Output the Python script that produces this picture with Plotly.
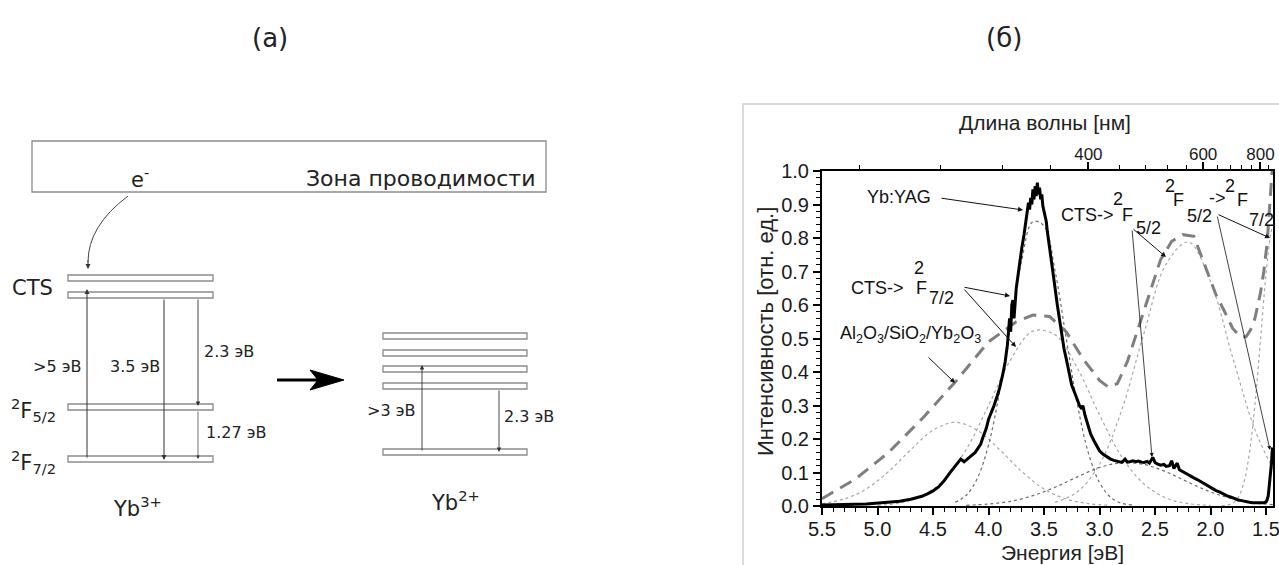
import plotly.graph_objects as go

# ---------------- data ----------------
# measured Yb:YAG excitation/luminescence spectrum (black, thick)
E_yag = [5.50, 5.40, 5.30, 5.20, 5.10, 5.00, 4.90, 4.80, 4.70, 4.60,
         4.55, 4.50, 4.45, 4.40, 4.35, 4.30, 4.27, 4.25, 4.22, 4.20,
         4.17, 4.15, 4.12, 4.10, 4.07, 4.05, 4.02, 4.00, 3.97, 3.95,
         3.92, 3.90, 3.87, 3.85, 3.83, 3.81, 3.80, 3.79, 3.78, 3.77,
         3.75, 3.73, 3.72, 3.70, 3.68, 3.67, 3.65, 3.64, 3.63, 3.62,
         3.61, 3.60, 3.59, 3.58, 3.57, 3.56, 3.55, 3.54, 3.53, 3.52,
         3.51, 3.50, 3.48, 3.47, 3.45, 3.43, 3.42, 3.40, 3.38, 3.35,
         3.32, 3.30, 3.27, 3.25, 3.22, 3.20, 3.18, 3.16, 3.15, 3.13,
         3.10, 3.08, 3.05, 3.02, 3.00, 2.97, 2.95, 2.92, 2.90, 2.87,
         2.85, 2.82, 2.80, 2.77, 2.75, 2.72, 2.70, 2.67, 2.65, 2.62,
         2.60, 2.57, 2.55, 2.52, 2.50, 2.48, 2.45, 2.42, 2.40, 2.37,
         2.35, 2.33, 2.30, 2.28, 2.25, 2.22, 2.20, 2.17, 2.15, 2.12,
         2.10, 2.07, 2.05, 2.02, 2.00, 1.97, 1.95, 1.92, 1.90, 1.87,
         1.85, 1.82, 1.80, 1.77, 1.75, 1.72, 1.70, 1.67, 1.65, 1.62,
         1.60, 1.57, 1.55, 1.52, 1.50, 1.49, 1.48, 1.47, 1.46, 1.45, 1.445, 1.44]
I_yag = [0.003, 0.003, 0.004, 0.005, 0.006, 0.008, 0.010, 0.014, 0.020, 0.029,
         0.036, 0.045, 0.057, 0.075, 0.098, 0.120, 0.134, 0.140, 0.132, 0.138,
         0.146, 0.152, 0.160, 0.170, 0.185, 0.205, 0.232, 0.258, 0.280, 0.300,
         0.330, 0.352, 0.395, 0.430, 0.480, 0.560, 0.520, 0.600, 0.615, 0.560,
         0.650, 0.700, 0.735, 0.770, 0.810, 0.835, 0.870, 0.905, 0.885, 0.920,
         0.900, 0.945, 0.915, 0.955, 0.925, 0.965, 0.930, 0.950, 0.915, 0.930,
         0.895, 0.880, 0.850, 0.820, 0.775, 0.730, 0.700, 0.650, 0.600, 0.530,
         0.470, 0.440, 0.390, 0.360, 0.335, 0.315, 0.300, 0.290, 0.300, 0.270,
         0.235, 0.215, 0.195, 0.175, 0.165, 0.155, 0.150, 0.145, 0.140, 0.136,
         0.134, 0.132, 0.130, 0.140, 0.131, 0.133, 0.135, 0.132, 0.134, 0.131,
         0.130, 0.133, 0.128, 0.145, 0.130, 0.126, 0.122, 0.124, 0.118, 0.120,
         0.135, 0.112, 0.128, 0.108, 0.102, 0.098, 0.094, 0.088, 0.084, 0.079,
         0.075, 0.070, 0.066, 0.060, 0.056, 0.050, 0.046, 0.042, 0.038, 0.033,
         0.030, 0.027, 0.024, 0.020, 0.018, 0.016, 0.014, 0.012, 0.011, 0.010,
         0.010, 0.009, 0.009, 0.010, 0.012, 0.018, 0.030, 0.060, 0.090, 0.130, 0.160, 0.175]

# Al2O3/SiO2/Yb2O3 film (grey dashed)
E_film = [5.50, 5.20, 4.90, 4.60, 4.30, 4.00, 3.75, 3.60, 3.45, 3.30,
          3.15, 3.00, 2.92, 2.84, 2.75, 2.60, 2.45, 2.35, 2.25, 2.15,
          2.05, 1.95, 1.88, 1.80, 1.73, 1.68, 1.64, 1.60, 1.55, 1.52,
          1.49, 1.47, 1.455, 1.445]
I_film = [0.022, 0.080, 0.160, 0.260, 0.370, 0.490, 0.550, 0.570, 0.566, 0.520,
          0.440, 0.375, 0.355, 0.365, 0.430, 0.580, 0.735, 0.790, 0.810, 0.805,
          0.715, 0.630, 0.585, 0.530, 0.505, 0.505, 0.525, 0.560, 0.636, 0.700,
          0.785, 0.880, 0.970, 1.000]

# fitted components (dotted)
E_g1 = [5.5, 5.3, 5.1, 4.9, 4.7, 4.5, 4.3, 4.1, 3.9, 3.7, 3.5, 3.3, 3.1, 2.9]
I_g1 = [0.007, 0.021, 0.051, 0.103, 0.168, 0.226, 0.250, 0.226, 0.168, 0.103, 0.051, 0.021, 0.007, 0.002]
E_g2 = [4.3, 4.2, 4.1, 4.0, 3.9, 3.8, 3.7, 3.6, 3.5, 3.4, 3.3, 3.2, 3.1, 3.0, 2.9, 2.8, 2.7]
I_g2 = [0.011, 0.032, 0.083, 0.182, 0.341, 0.542, 0.735, 0.849, 0.836, 0.701, 0.501, 0.305, 0.158, 0.070, 0.026, 0.008, 0.003]
E_g3 = [5.0, 4.8, 4.6, 4.4, 4.2, 4.0, 3.8, 3.6, 3.4, 3.2, 3.0, 2.8, 2.6, 2.4, 2.2, 2.0]
I_g3 = [0.002, 0.009, 0.030, 0.078, 0.169, 0.300, 0.437, 0.522, 0.511, 0.412, 0.272, 0.147, 0.066, 0.024, 0.007, 0.002]
E_g4 = [4.2, 4.0, 3.8, 3.6, 3.4, 3.2, 3.0, 2.8, 2.6, 2.4, 2.2, 2.0, 1.8, 1.6, 1.44]
I_g4 = [0.002, 0.006, 0.014, 0.031, 0.056, 0.087, 0.115, 0.129, 0.124, 0.102, 0.071, 0.042, 0.021, 0.009, 0.004]
E_g5 = [3.4, 3.2, 3.0, 2.8, 2.6, 2.4, 2.2, 2.0, 1.8, 1.6, 1.44]
I_g5 = [0.011, 0.042, 0.124, 0.286, 0.515, 0.722, 0.788, 0.670, 0.443, 0.228, 0.112]
E_g6 = [1.9, 1.8, 1.75, 1.7, 1.65, 1.6, 1.55, 1.5, 1.46, 1.44]
I_g6 = [0.001, 0.008, 0.026, 0.069, 0.157, 0.301, 0.495, 0.693, 0.808, 0.839]

# top axis (wavelength, nm)
wl_major = [400, 600, 800]
wl_minor = [240, 280, 320, 360, 440, 480, 520, 560, 640, 680, 720, 760, 840]
HC = 1240.0  # eV*nm

# ---------------- helpers ----------------
W, H = 1279, 565
SANS = "DejaVu Sans"
ARIAL = "Liberation Sans, Arial"


def px(x):
    return x / W


def py(y):
    return 1 - y / H


shapes = []
annotations = []


def rect(x0, y0, x1, y1, color="#8c8c8c", width=1.3):
    shapes.append(dict(type="rect", xref="paper", yref="paper",
                       x0=px(x0), x1=px(x1), y0=py(y0), y1=py(y1),
                       line=dict(color=color, width=width), fillcolor="rgba(0,0,0,0)", layer="above"))


def text(x, y, s, size, family=SANS, color="#222", xanchor="center", angle=0):
    annotations.append(dict(x=px(x), y=py(y), xref="paper", yref="paper", text=s,
                            showarrow=False, xanchor=xanchor, yanchor="middle",
                            textangle=angle, font=dict(size=size, family=family, color=color)))


def arrow(tip, tail, width=1.0, color="#222", head=2, size=1.0):
    annotations.append(dict(x=px(tip[0]), y=py(tip[1]), xref="paper", yref="paper",
                            ax=tail[0] - tip[0], ay=tail[1] - tip[1], axref="pixel", ayref="pixel",
                            text="", showarrow=True, arrowhead=head, arrowsize=size,
                            arrowwidth=width, arrowcolor=color, standoff=0, startstandoff=0))


# ---------------- (a) energy level scheme ----------------
text(270, 38, "(а)", 26)
text(1004, 38, "(б)", 26)

rect(32, 141, 546, 192)
text(537, 178, "Зона проводимости", 22, xanchor="right")
text(140, 178, "e<sup>-</sup>", 21)

# curved electron arrow
shapes.append(dict(type="path", xref="paper", yref="paper",
                   path=f"M {px(128)},{py(196)} Q {px(88)},{py(226)} {px(88)},{py(262)}",
                   line=dict(color="#444", width=1)))
arrow((88, 269), (88, 259), color="#333")

# Yb3+ levels
for y0 in (275, 292, 404, 456):
    rect(68, y0, 213, y0 + 6)
text(32, 288, "CTS", 21)
text(33, 410, "<sup>2</sup>F<sub>5/2</sub>", 21)
text(33, 462, "<sup>2</sup>F<sub>7/2</sub>", 21)
arrow((87, 289), (87, 459), color="#333")
arrow((164, 460), (164, 298), color="#333")
arrow((198, 406), (198, 298), color="#333", width=0.9)
arrow((198, 459), (198, 410), color="#333", width=0.7)
text(57, 366, "&gt;5 эВ", 16)
text(135, 366, "3.5 эВ", 16)
text(229, 351, "2.3 эВ", 16)
text(236, 432, "1.27 эВ", 16)
text(137, 507, "Yb<sup>3+</sup>", 21)

# transformation arrow
shapes.append(dict(type="line", xref="paper", yref="paper", x0=px(277), x1=px(322), y0=py(380), y1=py(380),
                   line=dict(color="black", width=3)))
shapes.append(dict(type="path", xref="paper", yref="paper",
                   path=f"M {px(310)},{py(370)} L {px(344)},{py(380)} L {px(310)},{py(390)} L {px(318)},{py(380)} Z",
                   fillcolor="black", line=dict(color="black", width=1)))

# Yb2+ levels
for y0 in (333, 350, 366, 383, 449):
    rect(383, y0, 527, y0 + 6)
arrow((422, 365), (422, 452), color="#333", width=0.9)
arrow((499, 452), (499, 389), color="#333", width=0.9)
text(391, 410, "&gt;3 эВ", 16)
text(529, 417, "2.3 эВ", 16)
text(455, 501, "Yb<sup>2+</sup>", 21)

# ---------------- (б) spectrum ----------------
X0, X1 = 822, 1273
Y0, Y1 = 171, 506
E_left, E_right = 5.5, 1.437

# frame around panel (б)
shapes.append(dict(type="rect", xref="paper", yref="paper", x0=px(743), x1=px(1300), y0=py(104), y1=py(600),
                   line=dict(color="#cfcfcf", width=1.5), fillcolor="rgba(0,0,0,0)", layer="below"))

fig = go.Figure()

dot_light = dict(color="#a8a8a8", width=1.2, dash="dot", shape="spline")
dot_dark = dict(color="#6c6c6c", width=1.2, dash="dot", shape="spline")
for ex, iy, st in ((E_g1, I_g1, dot_light), (E_g3, I_g3, dot_light), (E_g5, I_g5, dot_light),
                   (E_g6, I_g6, dot_light), (E_g2, I_g2, dot_dark), (E_g4, I_g4, dot_dark)):
    fig.add_trace(go.Scatter(x=ex, y=iy, mode="lines", line=st, hoverinfo="skip", showlegend=False))

fig.add_trace(go.Scatter(x=E_film, y=I_film, mode="lines",
                         line=dict(color="#7f7f7f", width=3, dash="13px,8px"), showlegend=False))
fig.add_trace(go.Scatter(x=E_yag, y=I_yag, mode="lines",
                         line=dict(color="black", width=3), showlegend=False))
# invisible trace to activate top wavelength axis
fig.add_trace(go.Scatter(x=[3.0], y=[0.5], xaxis="x2", mode="markers",
                         marker=dict(opacity=0), hoverinfo="skip", showlegend=False))

tickfont = dict(size=20, family=ARIAL, color="#1a1a1a")
fig.update_layout(
    width=W, height=H, margin=dict(l=0, r=0, t=0, b=0, autoexpand=False),
    paper_bgcolor="white", plot_bgcolor="white", showlegend=False,
    xaxis=dict(domain=[px(X0), px(X1)], range=[E_left, E_right], anchor="y", automargin=False,
               tickmode="linear", tick0=0, dtick=0.5, tickformat=".1f", ticklabeloverflow="allow",
               ticks="outside", ticklen=7, tickwidth=1.5, tickcolor="black", ticklabelstandoff=-3,
               minor=dict(tickmode="linear", tick0=0, dtick=0.1, ticks="outside", ticklen=4,
                          tickwidth=1, tickcolor="black"),
               showline=True, linecolor="black", linewidth=2, showgrid=False, zeroline=False,
               tickfont=tickfont),
    xaxis2=dict(domain=[px(X0), px(X1)], range=[E_left, E_right], overlaying="x", side="top", anchor="y",
                automargin=False, ticklabelstandoff=-5, ticklabeloverflow="allow",
                tickmode="array", tickvals=[HC / w for w in wl_major], ticktext=[str(w) for w in wl_major],
                ticks="outside", ticklen=7, tickwidth=1.5, tickcolor="black",
                minor=dict(tickmode="array", tickvals=[HC / w for w in wl_minor], ticks="outside",
                           ticklen=4, tickwidth=1, tickcolor="black"),
                showline=True, linecolor="black", linewidth=2, showgrid=False, zeroline=False,
                tickfont=dict(size=17, family=ARIAL, color="#1a1a1a")),
    yaxis=dict(domain=[py(Y1), py(Y0)], range=[0, 1.0], anchor="x", automargin=False,
               tickmode="linear", tick0=0, dtick=0.1, tickformat=".1f",
               ticks="outside", ticklen=7, tickwidth=1.5, tickcolor="black",
               minor=dict(tickmode="linear", tick0=0, dtick=0.02, ticks="outside", ticklen=4,
                          tickwidth=1, tickcolor="black"),
               showline=True, linecolor="black", linewidth=2, mirror=True,
               showgrid=False, zeroline=False, tickfont=tickfont),
)

# axis titles
text(1045, 123, "Длина волны [нм]", 21, family=ARIAL)
text(1062, 552, "Энергия [эВ]", 21, family=ARIAL)
text(765, 332, "Интенсивность [отн. ед.]", 22, family=ARIAL, angle=-90)

# in-plot labels
AF = 18
text(899, 197, "Yb:YAG", AF, family=ARIAL, color="#111")
arrow((1023, 210), (940, 198), color="#111")

text(877, 288, "CTS-&gt;", AF, family=ARIAL, color="#111")
text(919, 268, "2", AF, family=ARIAL, color="#111")
text(921, 288, "F", AF, family=ARIAL, color="#111")
text(942, 298, "7/2", AF, family=ARIAL, color="#111")
arrow((1010, 296), (963, 287), color="#111")
arrow((1016, 347), (963, 288), color="#111")

text(911, 334, "Al<sub>2</sub>O<sub>3</sub>/SiO<sub>2</sub>/Yb<sub>2</sub>O<sub>3</sub>", AF, family=ARIAL, color="#111")
arrow((955, 383), (927, 356), color="#111")

text(1087, 215, "CTS-&gt;", AF, family=ARIAL, color="#111")
text(1118, 199, "2", AF, family=ARIAL, color="#111")
text(1127, 215, "F", AF, family=ARIAL, color="#111")
text(1148, 228, "5/2", AF, family=ARIAL, color="#111")
arrow((1166, 257), (1132, 228), color="#111")
arrow((1152, 457), (1132, 229), color="#111", width=0.8)

text(1170, 186, "2", AF, family=ARIAL, color="#111")
text(1178, 200, "F", AF, family=ARIAL, color="#111")
text(1199, 216, "5/2", AF, family=ARIAL, color="#111")
text(1217, 198, "-&gt;", AF, family=ARIAL, color="#111")
text(1230, 186, "2", AF, family=ARIAL, color="#111")
text(1242, 200, "F", AF, family=ARIAL, color="#111")
text(1261, 220, "7/2", AF, family=ARIAL, color="#111")
arrow((1270, 238), (1217, 214), color="#111")
arrow((1270, 450), (1217, 215), color="#111", width=0.8)

fig.update_layout(shapes=shapes, annotations=annotations)
fig.write_html("out.html", config={"displayModeBar": False},
               post_script="document.body.style.margin='0px';")
